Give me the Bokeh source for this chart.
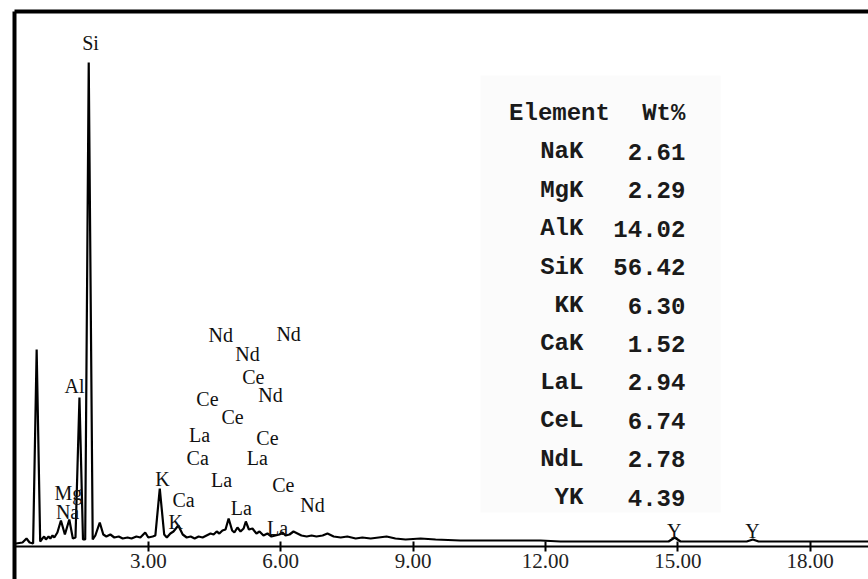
from bokeh.plotting import figure
from bokeh.models import (Range1d, LinearAxis, FixedTicker, NumeralTickFormatter,
                          ColumnDataSource, BoxAnnotation)
from bokeh.core.properties import value
from bokeh.embed import file_html
from bokeh.resources import INLINE

# ---- spectrum (energy in keV, counts) ----
energy_kev = [0.00, 0.15, 0.24, 0.31, 0.39, 0.47, 0.55, 0.60, 0.64, 0.68,
              0.74, 0.78, 0.83, 0.87, 0.94, 1.02, 1.11, 1.21, 1.29, 1.35,
              1.44, 1.52, 1.57, 1.65, 1.74, 1.80, 1.90, 1.98, 2.05, 2.14,
              2.23, 2.33, 2.42, 2.53, 2.62, 2.73, 2.82, 2.93, 3.00, 3.10,
              3.16, 3.26, 3.36, 3.42, 3.50, 3.57, 3.68, 3.78, 3.87, 3.96,
              4.05, 4.14, 4.23, 4.32, 4.41, 4.48, 4.55, 4.61, 4.68, 4.75,
              4.82, 4.90, 4.95, 5.02, 5.09, 5.16, 5.21, 5.28, 5.36, 5.45,
              5.52, 5.61, 5.70, 5.79, 5.88, 5.97, 6.04, 6.11, 6.20, 6.29,
              6.38, 6.47, 6.59, 6.70, 6.81, 6.95, 7.06, 7.20, 7.36, 7.51,
              7.70, 7.85, 8.04, 8.22, 8.40, 8.60, 8.83, 9.17, 9.51, 10.07,
              10.98, 11.89, 12.34, 13.25, 14.15, 14.79, 14.93, 15.06, 15.97, 16.56,
              16.70, 16.83, 17.78, 19.32]
counts = [15, 20, 40, 20, 15, 985, 25, 40, 50, 35,
          50, 40, 55, 45, 70, 130, 60, 135, 40, 45,
          745, 35, 35, 2420, 35, 55, 120, 60, 50, 60,
          45, 50, 40, 45, 40, 50, 45, 70, 45, 50,
          55, 290, 60, 45, 65, 75, 105, 60, 45, 50,
          40, 50, 45, 55, 65, 60, 75, 65, 80, 85,
          140, 80, 70, 95, 75, 90, 125, 85, 90, 65,
          75, 55, 65, 50, 55, 60, 70, 55, 60, 75,
          65, 55, 50, 55, 50, 55, 65, 50, 45, 50,
          40, 45, 40, 45, 50, 40, 35, 40, 35, 30,
          30, 30, 25, 25, 25, 25, 45, 25, 25, 25,
          35, 25, 25, 25]

# ---- peak labels ----
peak_labels = ["Si", "Al", "Mg", "Na", "K", "Ca", "K",
               "Nd", "Nd", "Nd", "Ce", "Nd", "Ce", "Ce", "La", "Ce",
               "Ca", "La", "La", "Ce", "La", "Nd", "La", "Y", "Y"]
label_kev = [1.69, 1.33, 1.19, 1.17, 3.32, 3.80, 3.62,
             4.64, 6.18, 5.25, 5.38, 5.77, 4.34, 4.91, 4.16, 5.70,
             4.12, 5.47, 4.66, 6.06, 5.11, 6.72, 5.93, 14.92, 16.69]
label_counts = [2520, 805, 270, 175, 340, 235, 125,
                1060, 1065, 965, 850, 760, 740, 650, 560, 545,
                445, 445, 335, 310, 195, 210, 95, 80, 80]

# ---- composition table ----
elements = ["NaK", "MgK", "AlK", "SiK", "KK", "CaK", "LaL", "CeL", "NdL", "YK"]
wt_percent = [2.61, 2.29, 14.02, 56.42, 6.30, 1.52, 2.94, 6.74, 2.78, 4.39]

tick_values = [3, 6, 9, 12, 15, 18]

p = figure(width=868, height=579,
           x_range=Range1d(-0.032, 19.32), y_range=Range1d(-165, 2675),
           output_backend="svg", toolbar_location=None,
           x_axis_location=None, y_axis_location=None,
           min_border_left=14, min_border_top=11,
           min_border_right=0, min_border_bottom=0)
p.outline_line_color = None
p.background_fill_color = "white"
p.border_fill_color = "white"
for g in p.grid:
    g.visible = False


def border_axis():
    return LinearAxis(ticker=FixedTicker(ticks=[]), axis_line_width=4,
                      axis_line_color="black", major_tick_in=0, major_tick_out=0,
                      minor_tick_in=0, minor_tick_out=0, major_label_standoff=0,
                      major_label_text_font_size="0px")


p.add_layout(border_axis(), "left")
p.add_layout(border_axis(), "above")

xaxis = LinearAxis(ticker=FixedTicker(ticks=tick_values),
                   formatter=NumeralTickFormatter(format="0.00"),
                   fixed_location=0,
                   axis_line_width=2, axis_line_color="black",
                   major_tick_in=5, major_tick_out=5, major_tick_line_width=2,
                   minor_tick_in=0, minor_tick_out=0,
                   major_label_standoff=2,
                   major_label_text_font="Liberation Serif",
                   major_label_text_font_size="21px",
                   major_label_text_color="#222222")
p.add_layout(xaxis, "below")

# faint background of the pasted table
p.add_layout(BoxAnnotation(left=10.53, right=15.97, bottom=170, top=2355,
                           fill_color="#fbfbfb", fill_alpha=1.0,
                           line_color=None, level="underlay"))

p.line(energy_kev, counts, line_color="black", line_width=2.2)

p.text(x=label_kev, y=label_counts, text=peak_labels,
       text_font=value("Liberation Serif"), text_font_size="20px",
       text_color="#111111", text_align="center", text_baseline="middle")

# table rows
row_top = 2165
row_step = 192
name_x = 12.86
val_x = 15.17
rows_y = [row_top - (i + 1) * row_step for i in range(len(elements))]
tab = ColumnDataSource(dict(y=rows_y, name=elements,
                            val=["%.2f" % v for v in wt_percent]))
table_style = dict(text_font=value("Liberation Mono"), text_font_style="bold",
                   text_font_size="24px", text_color="#1a1a1a",
                   text_align="right", text_baseline="middle")
p.text(x=name_x, y="y", text="name", source=tab, **table_style)
p.text(x=val_x, y="y", text="val", source=tab, **table_style)
p.text(x=[name_x + 0.6, val_x], y=[row_top, row_top], text=["Element", "Wt%"],
       **table_style)

open("out.html", "w").write(file_html(p, INLINE))
